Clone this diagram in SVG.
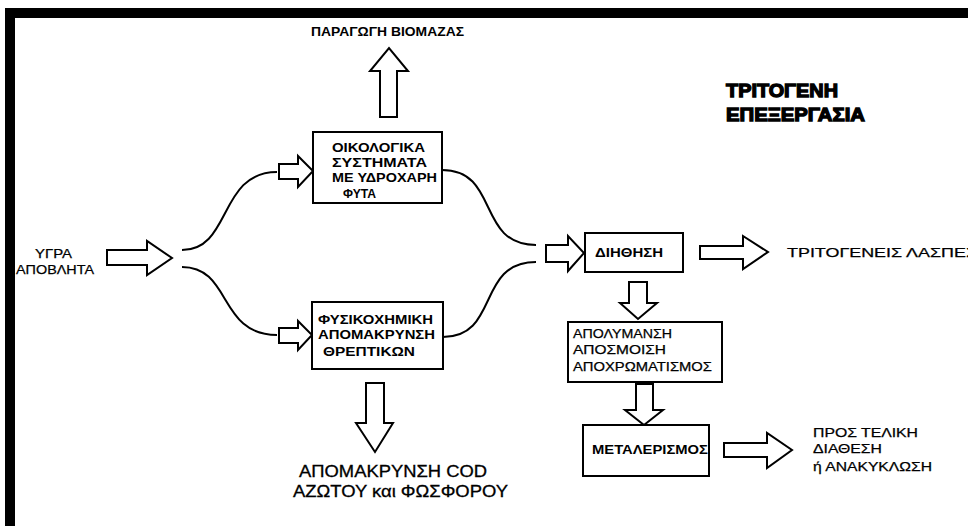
<svg xmlns="http://www.w3.org/2000/svg" width="968" height="526" viewBox="0 0 968 526">
<defs>
<style>
.frame{fill:#000}
.box{fill:#fff;stroke:#000;stroke-width:2}
.arr{fill:#fff;stroke:#000;stroke-width:2;stroke-linejoin:miter}
.cur{fill:none;stroke:#000;stroke-width:2}
text{font-family:"Liberation Sans",Arial,sans-serif;fill:#000}
.b{font-size:13px;font-weight:bold}
.r{font-size:13px;stroke:#000;stroke-width:0.25}
.big{font-size:16px;stroke:#000;stroke-width:0.3}
.title{font-size:19px;font-weight:900;stroke:#000;stroke-width:1.3}
</style>
</defs>
<rect width="968" height="526" fill="#fff"/>
<g id="frame">
<rect class="frame" x="5" y="8" width="963" height="10"/>
<rect class="frame" x="5" y="8" width="10" height="518"/>
</g>
<g id="connectors">
<path class="cur" d="M182,250 C232,250 218,172 277,172"/>
<path class="cur" d="M182,267 C232,267 218,335 277,335"/>
<path class="cur" d="M442,170 C500,170 476,245 536,245"/>
<path class="cur" d="M443,337 C500,337 476,262 536,262"/>
<polygon class="arr" points="380,117 397,117 397,71 408,71 389,48 370,71 380,71"/>
<polygon class="arr" points="107,250 147,250 147,241 172,258 147,275 147,265 107,265"/>
<polygon class="arr" points="279,164 298,164 298,156 313,171 298,187 298,179 279,179"/>
<polygon class="arr" points="279,328 298,328 298,321 312,335 298,350 298,343 279,343"/>
<polygon class="arr" points="366,383 384,383 384,423 393,423 375,452 356,423 366,423"/>
<polygon class="arr" points="546,245 568,245 568,236 584,253 568,271 568,262 546,262"/>
<polygon class="arr" points="700,246 743,246 743,236 768,252 743,269 743,259 700,259"/>
<polygon class="arr" points="629,282 647,282 647,303 657,303 638,319 620,303 629,303"/>
<polygon class="arr" points="636,384 653,384 653,410 663,410 644,425 625,410 636,410"/>
<polygon class="arr" points="724,443 767,443 767,433 792,450 767,468 767,457 724,457"/>
</g>
<g id="title">
<text class="title" x="726" y="97" textLength="112" lengthAdjust="spacingAndGlyphs">ΤΡΙΤΟΓΕΝΗ</text>
<text class="title" x="726" y="121" textLength="139" lengthAdjust="spacingAndGlyphs">ΕΠΕΞΕΡΓΑΣΙΑ</text>
</g>
<g id="input">
<text class="r" x="35" y="258" textLength="37" lengthAdjust="spacingAndGlyphs">ΥΓΡΑ</text>
<text class="r" x="16" y="274" textLength="78" lengthAdjust="spacingAndGlyphs">ΑΠΟΒΛΗΤΑ</text>
</g>
<g id="biomass">
<text class="b" x="311" y="36" textLength="153" lengthAdjust="spacingAndGlyphs">ΠΑΡΑΓΩΓΗ ΒΙΟΜΑΖΑΣ</text>
</g>
<g id="node-ecological">
<rect class="box" x="313" y="132" width="129" height="71"/>
<text class="b" x="332" y="152" textLength="93" lengthAdjust="spacingAndGlyphs">ΟΙΚΟΛΟΓΙΚΑ</text>
<text class="b" x="332" y="167" textLength="95" lengthAdjust="spacingAndGlyphs">ΣΥΣΤΗΜΑΤΑ</text>
<text class="b" x="332" y="182" textLength="105" lengthAdjust="spacingAndGlyphs">ΜΕ ΥΔΡΟΧΑΡΗ</text>
<text class="b" x="343" y="198" textLength="33" lengthAdjust="spacingAndGlyphs">ΦΥΤΑ</text>
</g>
<g id="node-physicochemical">
<rect class="box" x="312" y="302" width="131" height="67"/>
<text class="b" x="318" y="324" textLength="115" lengthAdjust="spacingAndGlyphs">ΦΥΣΙΚΟΧΗΜΙΚΗ</text>
<text class="b" x="318" y="339" textLength="117" lengthAdjust="spacingAndGlyphs">ΑΠΟΜΑΚΡΥΝΣΗ</text>
<text class="b" x="323" y="356" textLength="92" lengthAdjust="spacingAndGlyphs">ΘΡΕΠΤΙΚΩΝ</text>
</g>
<g id="removal">
<text class="big" x="299" y="477" textLength="188" lengthAdjust="spacingAndGlyphs">ΑΠΟΜΑΚΡΥΝΣΗ COD</text>
<text class="big" x="293" y="497" textLength="215" lengthAdjust="spacingAndGlyphs">ΑΖΩΤΟΥ και ΦΩΣΦΟΡΟΥ</text>
</g>
<g id="node-filtration">
<rect class="box" x="585" y="233" width="98" height="39"/>
<text class="b" x="595" y="257" textLength="68" lengthAdjust="spacingAndGlyphs">ΔΙΗΘΗΣΗ</text>
</g>
<g id="sludge">
<text class="r" x="787" y="257" textLength="190" lengthAdjust="spacingAndGlyphs">ΤΡΙΤΟΓΕΝΕΙΣ ΛΑΣΠΕΣ</text>
</g>
<g id="node-disinfection">
<rect class="box" x="568" y="322" width="154" height="60"/>
<text class="r" x="573" y="338" textLength="99" lengthAdjust="spacingAndGlyphs">ΑΠΟΛΥΜΑΝΣΗ</text>
<text class="r" x="573" y="354" textLength="93" lengthAdjust="spacingAndGlyphs">ΑΠΟΣΜΟΙΣΗ</text>
<text class="r" x="573" y="371" textLength="139" lengthAdjust="spacingAndGlyphs">ΑΠΟΧΡΩΜΑΤΙΣΜΟΣ</text>
</g>
<g id="node-reaeration">
<rect class="box" x="583" y="425" width="126" height="51"/>
<text class="b" x="592" y="454" textLength="116" lengthAdjust="spacingAndGlyphs">ΜΕΤΑΛΕΡΙΣΜΟΣ</text>
</g>
<g id="final">
<text class="r" x="813" y="437" textLength="105" lengthAdjust="spacingAndGlyphs">ΠΡΟΣ ΤΕΛΙΚΗ</text>
<text class="r" x="813" y="453" textLength="69" lengthAdjust="spacingAndGlyphs">ΔΙΑΘΕΣΗ</text>
<text class="r" x="813" y="471" textLength="119" lengthAdjust="spacingAndGlyphs">ή ΑΝΑΚΥΚΛΩΣΗ</text>
</g>
</svg>
